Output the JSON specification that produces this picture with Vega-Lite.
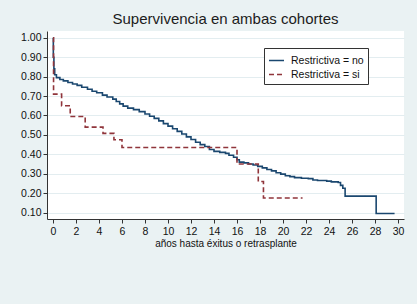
{
  "$schema": "https://vega.github.io/schema/vega-lite/v6.json",
  "width": 357,
  "height": 188,
  "autosize": {"type": "none"},
  "padding": {"left": 47, "top": 31, "right": 13, "bottom": 85},
  "background": "#EAF2F3",
  "title": {"text": "Supervivencia en ambas cohortes", "fontSize": 15, "font": "Liberation Sans", "fontWeight": "normal", "color": "#1c1c1c", "anchor": "middle", "offset": 4},
  "config": {
    "view": {"fill": "white", "stroke": null},
    "font": "Liberation Sans"
  },
  "data": {"values": [
    {"t": 0, "s": 1.0, "g": "Restrictiva = no"},
    {"t": 0.03, "s": 0.9, "g": "Restrictiva = no"},
    {"t": 0.08, "s": 0.84, "g": "Restrictiva = no"},
    {"t": 0.15, "s": 0.81, "g": "Restrictiva = no"},
    {"t": 0.3, "s": 0.795, "g": "Restrictiva = no"},
    {"t": 0.6, "s": 0.785, "g": "Restrictiva = no"},
    {"t": 0.9, "s": 0.778, "g": "Restrictiva = no"},
    {"t": 1.3, "s": 0.77, "g": "Restrictiva = no"},
    {"t": 1.7, "s": 0.762, "g": "Restrictiva = no"},
    {"t": 2.1, "s": 0.755, "g": "Restrictiva = no"},
    {"t": 2.5, "s": 0.745, "g": "Restrictiva = no"},
    {"t": 3.0, "s": 0.735, "g": "Restrictiva = no"},
    {"t": 3.4, "s": 0.725, "g": "Restrictiva = no"},
    {"t": 3.8, "s": 0.717, "g": "Restrictiva = no"},
    {"t": 4.3, "s": 0.705, "g": "Restrictiva = no"},
    {"t": 4.7, "s": 0.695, "g": "Restrictiva = no"},
    {"t": 5.2, "s": 0.684, "g": "Restrictiva = no"},
    {"t": 5.5, "s": 0.672, "g": "Restrictiva = no"},
    {"t": 5.8, "s": 0.66, "g": "Restrictiva = no"},
    {"t": 6.1, "s": 0.648, "g": "Restrictiva = no"},
    {"t": 6.5, "s": 0.638, "g": "Restrictiva = no"},
    {"t": 7.0, "s": 0.63, "g": "Restrictiva = no"},
    {"t": 7.5, "s": 0.62, "g": "Restrictiva = no"},
    {"t": 8.0, "s": 0.608, "g": "Restrictiva = no"},
    {"t": 8.4, "s": 0.596, "g": "Restrictiva = no"},
    {"t": 8.8, "s": 0.585, "g": "Restrictiva = no"},
    {"t": 9.2, "s": 0.572, "g": "Restrictiva = no"},
    {"t": 9.6, "s": 0.558, "g": "Restrictiva = no"},
    {"t": 10.0, "s": 0.545, "g": "Restrictiva = no"},
    {"t": 10.4, "s": 0.532, "g": "Restrictiva = no"},
    {"t": 10.8, "s": 0.518, "g": "Restrictiva = no"},
    {"t": 11.2, "s": 0.505, "g": "Restrictiva = no"},
    {"t": 11.6, "s": 0.49, "g": "Restrictiva = no"},
    {"t": 12.0, "s": 0.476, "g": "Restrictiva = no"},
    {"t": 12.4, "s": 0.462, "g": "Restrictiva = no"},
    {"t": 12.8, "s": 0.45, "g": "Restrictiva = no"},
    {"t": 13.2, "s": 0.44, "g": "Restrictiva = no"},
    {"t": 13.6, "s": 0.425, "g": "Restrictiva = no"},
    {"t": 14.0, "s": 0.415, "g": "Restrictiva = no"},
    {"t": 14.5, "s": 0.41, "g": "Restrictiva = no"},
    {"t": 15.0, "s": 0.405, "g": "Restrictiva = no"},
    {"t": 15.3, "s": 0.395, "g": "Restrictiva = no"},
    {"t": 15.7, "s": 0.385, "g": "Restrictiva = no"},
    {"t": 16.0, "s": 0.372, "g": "Restrictiva = no"},
    {"t": 16.2, "s": 0.36, "g": "Restrictiva = no"},
    {"t": 16.6, "s": 0.356, "g": "Restrictiva = no"},
    {"t": 17.0, "s": 0.35, "g": "Restrictiva = no"},
    {"t": 17.4, "s": 0.345, "g": "Restrictiva = no"},
    {"t": 17.8, "s": 0.338, "g": "Restrictiva = no"},
    {"t": 18.2, "s": 0.33, "g": "Restrictiva = no"},
    {"t": 18.6, "s": 0.322, "g": "Restrictiva = no"},
    {"t": 19.0, "s": 0.315, "g": "Restrictiva = no"},
    {"t": 19.4, "s": 0.305, "g": "Restrictiva = no"},
    {"t": 19.8, "s": 0.298, "g": "Restrictiva = no"},
    {"t": 20.2, "s": 0.29, "g": "Restrictiva = no"},
    {"t": 20.6, "s": 0.285, "g": "Restrictiva = no"},
    {"t": 21.0, "s": 0.28, "g": "Restrictiva = no"},
    {"t": 21.6, "s": 0.277, "g": "Restrictiva = no"},
    {"t": 22.2, "s": 0.275, "g": "Restrictiva = no"},
    {"t": 22.6, "s": 0.268, "g": "Restrictiva = no"},
    {"t": 23.0, "s": 0.265, "g": "Restrictiva = no"},
    {"t": 23.8, "s": 0.262, "g": "Restrictiva = no"},
    {"t": 24.2, "s": 0.258, "g": "Restrictiva = no"},
    {"t": 24.8, "s": 0.255, "g": "Restrictiva = no"},
    {"t": 25.0, "s": 0.24, "g": "Restrictiva = no"},
    {"t": 25.2, "s": 0.225, "g": "Restrictiva = no"},
    {"t": 25.4, "s": 0.185, "g": "Restrictiva = no"},
    {"t": 28.1, "s": 0.095, "g": "Restrictiva = no"},
    {"t": 29.7, "s": 0.095, "g": "Restrictiva = no"},
    {"t": 0, "s": 1.0, "g": "Restrictiva = si"},
    {"t": 0.05, "s": 0.71, "g": "Restrictiva = si"},
    {"t": 0.75, "s": 0.65, "g": "Restrictiva = si"},
    {"t": 1.5, "s": 0.595, "g": "Restrictiva = si"},
    {"t": 2.8, "s": 0.54, "g": "Restrictiva = si"},
    {"t": 4.35, "s": 0.508, "g": "Restrictiva = si"},
    {"t": 5.3, "s": 0.475, "g": "Restrictiva = si"},
    {"t": 6.0, "s": 0.435, "g": "Restrictiva = si"},
    {"t": 16.0, "s": 0.35, "g": "Restrictiva = si"},
    {"t": 17.85, "s": 0.26, "g": "Restrictiva = si"},
    {"t": 18.3, "s": 0.175, "g": "Restrictiva = si"},
    {"t": 21.7, "s": 0.175, "g": "Restrictiva = si"}
  ]},
  "mark": {"type": "line", "interpolate": "step-after", "strokeWidth": 1.6},
  "encoding": {
    "x": {"field": "t", "type": "quantitative",
      "scale": {"domain": [-0.52, 30.52], "nice": false, "zero": false},
      "axis": {"values": [0,2,4,6,8,10,12,14,16,18,20,22,24,26,28,30], "title": "años hasta éxitus o retrasplante",
        "grid": false, "domainColor": "#333", "tickColor": "#333", "tickSize": 4, "labelPadding": 3,
        "labelFontSize": 10.5, "labelColor": "#111", "titleFontSize": 10, "titleFontWeight": "normal", "titleColor": "#111", "titlePadding": 2}},
    "y": {"field": "s", "type": "quantitative",
      "scale": {"domain": [0.067, 1.035], "nice": false, "zero": false},
      "axis": {"values": [0.1,0.2,0.3,0.4,0.5,0.6,0.7,0.8,0.9,1.0], "format": ".2f", "title": null,
        "grid": true, "gridColor": "#E3EDF0", "gridWidth": 1, "domainColor": "#333", "tickColor": "#333", "tickSize": 4, "labelPadding": 2,
        "labelFontSize": 10.5, "labelColor": "#111"}},
    "color": {"field": "g", "type": "nominal",
      "scale": {"domain": ["Restrictiva = no", "Restrictiva = si"], "range": ["#1A476F", "#90353B"]},
      "legend": {"title": null, "orient": "none", "legendX": 217, "legendY": 17, "strokeColor": "#333", "fillColor": "white",
        "padding": 4, "symbolType": "stroke", "symbolSize": 225, "symbolStrokeWidth": 1.6, "labelFontSize": 10.5, "labelColor": "#111",
        "labelOffset": 6, "rowPadding": -1, "cornerRadius": 0}},
    "strokeDash": {"field": "g", "type": "nominal",
      "scale": {"domain": ["Restrictiva = no", "Restrictiva = si"], "range": [[1, 0], [5, 3]]},
      "legend": {"title": null, "orient": "none", "legendX": 217, "legendY": 17, "strokeColor": "#333", "fillColor": "white",
        "padding": 4, "symbolType": "stroke", "symbolSize": 225, "symbolStrokeWidth": 1.6, "labelFontSize": 10.5, "labelColor": "#111",
        "labelOffset": 6, "rowPadding": -1, "cornerRadius": 0}}
  }
}
